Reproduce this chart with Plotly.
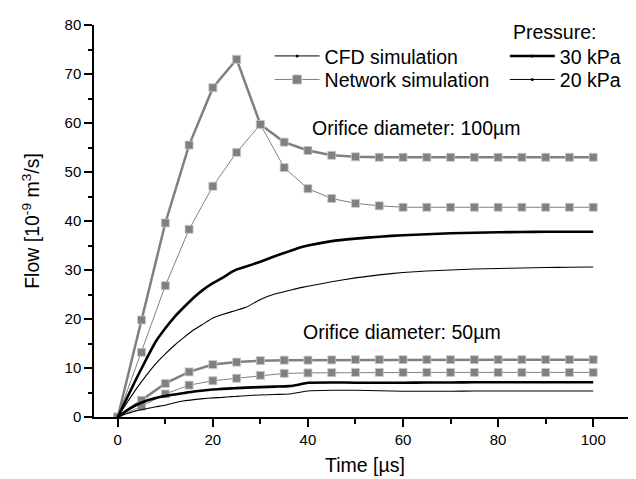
import plotly.graph_objects as go

# ---------------- data ----------------
# Network simulation (every 5 µs)
t_net = [0, 5, 10, 15, 20, 25, 30, 35, 40, 45, 50, 55, 60, 65, 70, 75, 80, 85, 90, 95, 100]
net_100_30 = [0, 19.8, 39.6, 55.5, 67.2, 73.0, 59.7, 56.1, 54.4, 53.4, 53.1, 53.0, 53.0, 53.0, 53.0, 53.0, 53.0, 53.0, 53.0, 53.0, 53.0]
net_100_20 = [0, 13.2, 26.8, 38.3, 47.1, 54.0, 59.7, 50.9, 46.6, 44.6, 43.6, 43.1, 42.8, 42.8, 42.8, 42.8, 42.8, 42.8, 42.8, 42.8, 42.8]
net_50_30 = [0, 3.4, 6.85, 9.2, 10.7, 11.2, 11.5, 11.6, 11.6, 11.65, 11.7, 11.7, 11.7, 11.7, 11.7, 11.7, 11.7, 11.7, 11.7, 11.7, 11.7]
net_50_20 = [0, 2.2, 4.7, 6.5, 7.4, 7.9, 8.5, 8.9, 9.0, 9.05, 9.1, 9.1, 9.1, 9.1, 9.1, 9.1, 9.1, 9.1, 9.1, 9.1, 9.1]

# CFD simulation
t_cfd = [0, 2, 4, 6, 8, 10, 12, 14, 16, 18, 20, 22, 24, 25, 27, 30, 33, 36, 38, 40,
         45, 50, 55, 60, 65, 70, 75, 80, 85, 90, 95, 100]
cfd_100_30 = [0, 4.0, 8.0, 11.8, 15.4, 18.1, 20.5, 22.5, 24.4, 26.0, 27.3, 28.4, 29.6, 30.1, 30.7, 31.7, 32.8, 33.8, 34.5, 35.0,
              35.9, 36.4, 36.8, 37.1, 37.3, 37.5, 37.6, 37.7, 37.75, 37.8, 37.8, 37.8]
cfd_100_20 = [0, 3.0, 5.9, 8.5, 10.9, 12.9, 14.7, 16.3, 17.8, 19.0, 20.2, 20.9, 21.5, 21.8, 22.4, 24.0, 25.1, 25.8, 26.3, 26.7,
              27.6, 28.4, 29.0, 29.5, 29.8, 30.0, 30.2, 30.3, 30.4, 30.5, 30.55, 30.6]
cfd_50_30 = [0, 1.4, 2.5, 3.3, 3.9, 4.3, 4.6, 4.9, 5.2, 5.4, 5.6, 5.75, 5.85, 5.9, 6.0, 6.1, 6.2, 6.3, 6.6, 7.0,
             7.05, 7.0, 7.0, 7.0, 7.05, 7.05, 7.1, 7.1, 7.1, 7.1, 7.1, 7.1]
cfd_50_20 = [0, 0.7, 1.3, 1.7, 2.1, 2.4, 2.9, 3.3, 3.55, 3.75, 3.9, 4.0, 4.15, 4.2, 4.35, 4.5, 4.6, 4.7, 5.0, 5.3,
             5.45, 5.45, 5.35, 5.25, 5.25, 5.25, 5.3, 5.3, 5.3, 5.3, 5.3, 5.3]

x_ticks = [0, 20, 40, 60, 80, 100]
y_ticks = [0, 10, 20, 30, 40, 50, 60, 70, 80]

FONT = "Liberation Sans, Arial, sans-serif"
GRAY = "#808080"
BIG = 19.5

fig = go.Figure()

# network traces
for vals, w in [(net_100_30, 2.5), (net_100_20, 1), (net_50_30, 2.5), (net_50_20, 1)]:
    fig.add_trace(go.Scatter(
        x=t_net, y=vals, mode="lines+markers", showlegend=False,
        line=dict(color=GRAY, width=w),
        marker=dict(symbol="square", size=8, color=GRAY, line=dict(color="#c8c8c8", width=0.8)),
    ))

# CFD traces
for vals, w in [(cfd_100_30, 2.6), (cfd_100_20, 1.1), (cfd_50_30, 2.6), (cfd_50_20, 1.1)]:
    fig.add_trace(go.Scatter(
        x=t_cfd, y=vals, mode="lines", showlegend=False,
        line=dict(color="black", width=w, shape="spline", smoothing=0.4),
    ))

# legend entries (one legend box per entry for exact placement)
fig.add_trace(go.Scatter(x=[None], y=[None], mode="lines+markers", name="CFD simulation",
                         line=dict(color="black", width=1), marker=dict(color="black", size=3),
                         legend="legend"))
fig.add_trace(go.Scatter(x=[None], y=[None], mode="lines+markers", name="Network simulation",
                         line=dict(color=GRAY, width=1),
                         marker=dict(symbol="square", size=9, color=GRAY, line=dict(color="#c8c8c8", width=0.8)),
                         legend="legend2"))
fig.add_trace(go.Scatter(x=[None], y=[None], mode="lines+markers", name="30 kPa",
                         line=dict(color="black", width=2.5), marker=dict(color="black", size=3),
                         legend="legend3"))
fig.add_trace(go.Scatter(x=[None], y=[None], mode="lines+markers", name="20 kPa",
                         line=dict(color="black", width=1), marker=dict(color="black", size=3),
                         legend="legend4"))

fig.add_annotation(x=62.7, y=58.9, text="Orifice diameter: 100µm", showarrow=False,
                   font=dict(size=BIG, color="black", family=FONT))
fig.add_annotation(x=59.7, y=17.3, text="Orifice diameter: 50µm", showarrow=False,
                   font=dict(size=BIG, color="black", family=FONT))
fig.add_annotation(x=0.769, y=0.9825, xref="paper", yref="paper", xanchor="left", yanchor="middle",
                   text="Pressure:", showarrow=False, font=dict(size=BIG, color="black", family=FONT))

leg = dict(xanchor="left", yanchor="top", bgcolor="rgba(0,0,0,0)", font=dict(size=BIG), itemwidth=45)

fig.update_layout(
    width=636, height=479,
    margin=dict(l=86, r=8, t=8, b=70),
    paper_bgcolor="white", plot_bgcolor="white",
    font=dict(family=FONT, size=15, color="black"),
    legend=dict(x=0.324, y=0.970, **leg),
    legend2=dict(x=0.324, y=0.910, **leg),
    legend3=dict(x=0.758, y=0.970, **leg),
    legend4=dict(x=0.758, y=0.910, **leg),
    xaxis=dict(range=[-5, 109], tickmode="array", tickvals=x_ticks, ticktext=[str(v) for v in x_ticks],
               showgrid=False, zeroline=False, showline=True, linecolor="black", linewidth=1.5,
               ticks="outside", ticklen=8, tickwidth=1.5, tickcolor="black", ticklabeloverflow="allow",
               minor=dict(tickvals=[10, 30, 50, 70, 90], ticks="outside", ticklen=5, tickwidth=1.5, tickcolor="black"),
               title=dict(text="Time [µs]", font=dict(size=BIG), standoff=12)),
    yaxis=dict(range=[0, 80], tickmode="array", tickvals=y_ticks, ticktext=[str(v) for v in y_ticks],
               showgrid=False, zeroline=False, showline=True, linecolor="black", linewidth=1.5,
               ticks="outside", ticklen=8, tickwidth=1.5, tickcolor="black", ticklabeloverflow="allow",
               minor=dict(tickvals=[5, 15, 25, 35, 45, 55, 65, 75], ticks="outside", ticklen=4, tickwidth=1.5, tickcolor="black"),
               title=dict(text="Flow [10<sup>-9</sup> m<sup>3</sup>/s]", font=dict(size=BIG), standoff=20)),
)

fig.write_html("out.html")
